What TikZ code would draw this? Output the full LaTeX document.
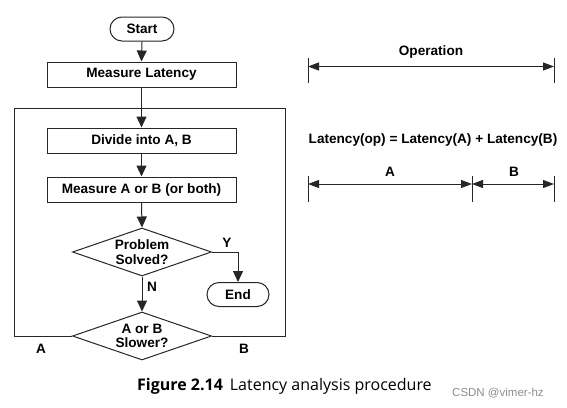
\documentclass[tikz,border=0pt]{standalone}
\usepackage{fontspec}
\setmainfont{Liberation Sans}
\newfontfamily\capfont{Open Sans}
\usetikzlibrary{arrows.meta,shapes.geometric,shapes.misc}
\begin{document}
\begin{tikzpicture}[x=1pt,y=-1pt,
  every node/.style={font=\fontsize{13.6}{15.5}\selectfont\bfseries},
  line/.style={draw=black!85, line width=1pt},
  arr/.style={line, -{Triangle[length=11pt,width=10pt]}},
  darr/.style={line, {Triangle[length=11pt,width=8pt]}-{Triangle[length=11pt,width=8pt]}},
  procbox/.style={draw=black!85, line width=1pt, rectangle, minimum width=189pt, minimum height=25pt, inner sep=0pt},
  termbox/.style={draw=black!85, line width=1pt, rounded rectangle, minimum height=24pt, inner sep=0pt},
  dia/.style={draw=black!85, line width=1pt, diamond, minimum width=139pt, minimum height=48pt, inner sep=0pt},
  txt/.style={align=center, inner sep=0pt},
  lbl/.style={inner sep=0pt}
]
\useasboundingbox (0,0) rectangle (567,407);
% flowchart nodes
\node[termbox, minimum width=64pt] (start) at (142,29) {Start};
\node[procbox] (meas) at (141.5,74.5) {Measure Latency};
\node[procbox] (div) at (141.5,140.5) {Divide into A, B};
\node[procbox] (mab) at (141.5,189.5) {Measure A or B (or both)};
\node[dia] (prob) at (142,252) {};
\node[txt] (probt) at (142,252) {Problem\\[-1pt]Solved?};
\node[termbox, minimum width=62pt] (end) at (238,294.5) {End};
\node[dia] (slow) at (142,336) {};
\node[txt] (slowt) at (142,336) {A or B\\[-1pt]Slower?};
\coordinate (yc) at (238,252);
\coordinate (lb) at (14,336);
\coordinate (lt) at (14,108);
\coordinate (rt) at (285,108);
\coordinate (rb) at (285,336);
% connectors
\draw[arr] (start.south) -- (meas.north);
\draw[arr] (meas.south) -- (div.north);
\draw[arr] (div.south) -- (mab.north);
\draw[arr] (mab.south) -- (prob.north);
\draw[arr] (prob.south) -- (slow.north);
\draw[arr] (prob.east) -- (yc) -- (end.north);
\draw[line] (slow.west) -- (lb) -- (lt) -- (rt) -- (rb) -- (slow.east);
% labels
\node[lbl] (ylab) at (227,243) {Y};
\node[lbl] (nlab) at (152,287) {N};
\node[lbl] (alab) at (41,349) {A};
\node[lbl] (blab) at (244,349) {B};
% right side
\coordinate (t1a) at (308,58); \coordinate (t1b) at (308,83);
\coordinate (t2a) at (554,58); \coordinate (t2b) at (554,83);
\draw[line] (t1a) -- (t1b);
\draw[line] (t2a) -- (t2b);
\coordinate (o1) at (308,66.5); \coordinate (o2) at (554,66.5);
\draw[darr] (o1) -- (o2);
\node[lbl] (oplab) at (431,52) {Operation};
\node[lbl] (formula) at (433,140) {Latency(op) = Latency(A) + Latency(B)};
\coordinate (u1a) at (308,176); \coordinate (u1b) at (308,202);
\coordinate (u2a) at (472,176); \coordinate (u2b) at (472,202);
\coordinate (u3a) at (554,176); \coordinate (u3b) at (554,202);
\draw[line] (u1a) -- (u1b);
\draw[line] (u2a) -- (u2b);
\draw[line] (u3a) -- (u3b);
\coordinate (a1) at (308,184); \coordinate (a2) at (472,184); \coordinate (a3) at (554,184);
\draw[darr] (a1) -- (a2);
\draw[darr] (a2) -- (a3);
\node[lbl] (alab2) at (390,172) {A};
\node[lbl] (blab2) at (514,172) {B};
% caption
\node[lbl, anchor=west, font=\capfont\fontsize{16}{18}\selectfont] (cap) at (137,386) {\textbf{Figure 2.14}\hspace{7pt}Latency analysis procedure};
\node[lbl, anchor=west, font=\fontsize{11.5}{13}\selectfont, text=black!45] (wm) at (452,393) {CSDN @vimer-hz};
\end{tikzpicture}
\end{document}
